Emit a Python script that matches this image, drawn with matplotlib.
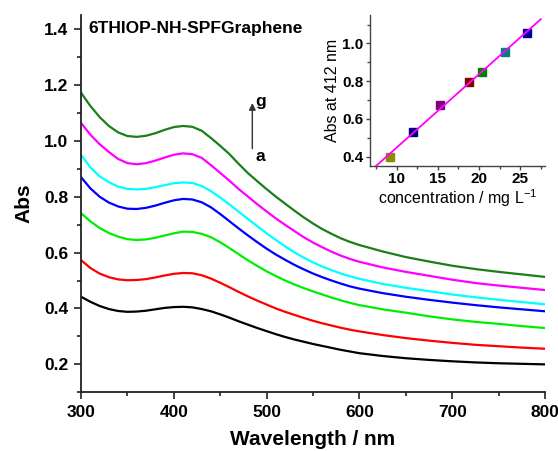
import numpy as np
import matplotlib.pyplot as plt
from matplotlib.ticker import MultipleLocator

plt.rcParams['font.family'] = ['Liberation Sans', 'DejaVu Sans']

# UV-vis spectra, curves a..g
wl = [300, 310, 320, 330, 340, 350, 360, 370, 380, 390, 400, 410, 420, 430, 440,
      450, 460, 470, 480, 490, 500, 510, 520, 530, 540, 550, 560, 570, 580, 590,
      600, 625, 650, 675, 700, 725, 750, 775, 800]
abs_a = [0.442, 0.424, 0.409, 0.398, 0.391, 0.388, 0.389, 0.392, 0.397, 0.402, 0.405, 0.406, 0.404,
         0.398, 0.390, 0.379, 0.367, 0.354, 0.342, 0.330, 0.319, 0.308, 0.298, 0.289, 0.281, 0.273,
         0.266, 0.259, 0.252, 0.246, 0.240, 0.230, 0.222, 0.216, 0.211, 0.207, 0.204, 0.202, 0.200]
abs_b = [0.573, 0.545, 0.525, 0.512, 0.504, 0.501, 0.502, 0.505, 0.511, 0.518, 0.524, 0.527, 0.526,
         0.519, 0.507, 0.492, 0.476, 0.459, 0.443, 0.428, 0.414, 0.400, 0.388, 0.377, 0.366, 0.356,
         0.347, 0.339, 0.331, 0.324, 0.318, 0.305, 0.294, 0.285, 0.277, 0.270, 0.265, 0.260, 0.256]
abs_c = [0.741, 0.712, 0.688, 0.670, 0.657, 0.648, 0.645, 0.647, 0.653, 0.661, 0.669, 0.675, 0.674,
         0.667, 0.655, 0.637, 0.616, 0.594, 0.572, 0.552, 0.533, 0.516, 0.500, 0.486, 0.473, 0.461,
         0.450, 0.439, 0.429, 0.420, 0.412, 0.397, 0.385, 0.372, 0.361, 0.352, 0.345, 0.337, 0.330]
abs_d = [0.870, 0.830, 0.800, 0.779, 0.765, 0.757, 0.756, 0.760, 0.768, 0.778, 0.787, 0.792, 0.790,
         0.780, 0.762, 0.738, 0.712, 0.686, 0.661, 0.637, 0.614, 0.593, 0.574, 0.556, 0.540, 0.525,
         0.512, 0.500, 0.489, 0.479, 0.471, 0.455, 0.442, 0.431, 0.421, 0.412, 0.404, 0.397, 0.390]
abs_e = [0.950, 0.905, 0.873, 0.852, 0.836, 0.828, 0.826, 0.828, 0.834, 0.841, 0.848, 0.851, 0.849,
         0.838, 0.820, 0.797, 0.772, 0.746, 0.720, 0.694, 0.669, 0.645, 0.622, 0.601, 0.582, 0.565,
         0.550, 0.537, 0.525, 0.515, 0.506, 0.488, 0.474, 0.462, 0.450, 0.440, 0.431, 0.423, 0.415]
abs_f = [1.064, 1.022, 0.988, 0.960, 0.935, 0.920, 0.916, 0.920, 0.929, 0.940, 0.950, 0.955, 0.952,
         0.939, 0.913, 0.885, 0.857, 0.827, 0.800, 0.773, 0.747, 0.722, 0.699, 0.677, 0.655, 0.636,
         0.619, 0.603, 0.589, 0.577, 0.567, 0.547, 0.531, 0.517, 0.503, 0.491, 0.482, 0.474, 0.466]
abs_g = [1.172, 1.125, 1.085, 1.053, 1.030, 1.017, 1.014, 1.018, 1.027, 1.039, 1.049, 1.053, 1.050,
         1.036, 1.010, 0.982, 0.952, 0.917, 0.884, 0.855, 0.827, 0.800, 0.775, 0.750, 0.726, 0.704,
         0.684, 0.667, 0.651, 0.638, 0.627, 0.604, 0.584, 0.568, 0.553, 0.541, 0.531, 0.522, 0.513]
spectra = [abs_a, abs_b, abs_c, abs_d, abs_e, abs_f, abs_g]
line_colors = ['black', '#ff0000', '#00ee00', '#0000ff', '#00ffff', '#ff00ff', '#1a7f1a']

# calibration at 412 nm
conc = [9.2, 12.0, 15.3, 18.8, 20.4, 23.1, 25.8]
abs412 = [0.400, 0.530, 0.675, 0.795, 0.850, 0.955, 1.055]
point_colors = ['#8c8c00', '#000080', '#800080', '#800000', '#008000', '#008080', '#0000a0']

fig = plt.figure(figsize=(5.58, 4.51), dpi=100)
ax = fig.add_axes([0.1452, 0.1301, 0.8315, 0.8366])

for y, c in zip(spectra, line_colors):
    ax.plot(wl, y, color=c, lw=1.6, solid_joinstyle='round')

ax.set_xlim(300, 800)
ax.set_ylim(0.1, 1.45)
ax.xaxis.set_major_locator(MultipleLocator(100))
ax.xaxis.set_minor_locator(MultipleLocator(50))
ax.yaxis.set_major_locator(MultipleLocator(0.2))
ax.yaxis.set_minor_locator(MultipleLocator(0.1))
ax.yaxis.set_major_formatter(plt.FormatStrFormatter('%.1f'))
for s in ['top', 'right']:
    ax.spines[s].set_visible(False)
for s in ['left', 'bottom']:
    ax.spines[s].set_linewidth(1.3)
    ax.spines[s].set_color('#222222')
ax.tick_params(which='major', direction='out', length=5, width=1.2, color='#222222',
               labelsize=12.5, pad=4)
ax.tick_params(which='minor', direction='out', length=3, width=1.2, color='#222222')
for lb in ax.get_xticklabels() + ax.get_yticklabels():
    lb.set_fontweight('bold')
ax.set_xlabel('Wavelength / nm', fontsize=15, fontweight='bold', labelpad=7)
ax.set_ylabel('Abs', fontsize=15, fontweight='bold', labelpad=8)

ax.text(0.015, 0.985, '6THIOP-NH-SPFGraphene', transform=ax.transAxes,
        fontsize=12.5, fontweight='bold', va='top', ha='left')

# a -> g arrow
ax.annotate('', xy=(484.6, 1.145), xytext=(484.6, 0.962),
            arrowprops=dict(arrowstyle='-|>', color='#333333', lw=1, mutation_scale=10))
ax.text(487.5, 1.142, 'g', fontsize=12.5, fontweight='bold', va='center', ha='left')
ax.text(488.0, 0.945, 'a', fontsize=12.5, fontweight='bold', va='center', ha='left')

# inset: linear calibration
ins = fig.add_axes([0.663, 0.6326, 0.3136, 0.334])
fit = np.polyfit(conc, abs412, 1)
xf = np.array([7.5, 27.5])
for x, y, c in zip(conc, abs412, point_colors):
    ins.plot(x, y, marker='s', ms=5.5, color=c, mec=c, zorder=2)
ins.plot(xf, np.polyval(fit, xf), color='#ff00ff', lw=1.3, zorder=3)
ins.set_xlim(6.75, 28)
ins.set_ylim(0.352, 1.15)
ins.xaxis.set_major_locator(MultipleLocator(5))
ins.xaxis.set_minor_locator(MultipleLocator(2.5))
ins.yaxis.set_major_locator(MultipleLocator(0.2))
ins.yaxis.set_minor_locator(MultipleLocator(0.1))
ins.yaxis.set_major_formatter(plt.FormatStrFormatter('%.1f'))
for s in ['top', 'right']:
    ins.spines[s].set_visible(False)
for s in ['left', 'bottom']:
    ins.spines[s].set_linewidth(1.0)
    ins.spines[s].set_color('#444444')
ins.tick_params(which='major', direction='out', length=3, width=1, color='#444444',
                labelsize=11, pad=1.5)
ins.tick_params(which='minor', direction='out', length=2, width=1, color='#444444')
for lb in ins.get_xticklabels() + ins.get_yticklabels():
    lb.set_fontweight('bold')
ins.set_xlabel('concentration / mg L$^{\\mathregular{-1}}$', fontsize=11.5, labelpad=1)
ins.set_ylabel('Abs at 412 nm', fontsize=11.5, labelpad=2)

fig.savefig('out.png', dpi=100)
